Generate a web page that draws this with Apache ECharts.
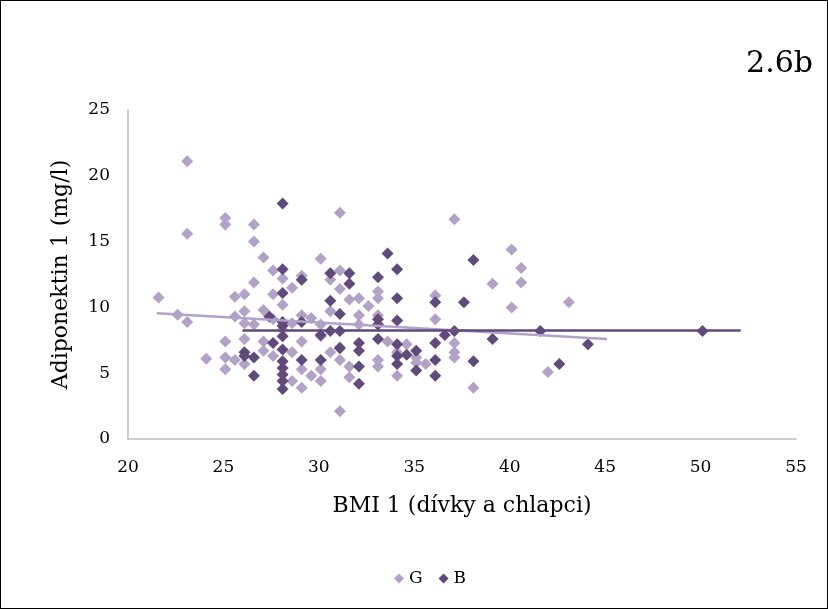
<!DOCTYPE html>
<html><head><meta charset="utf-8">
<script src="https://cdn.jsdelivr.net/npm/echarts@6/dist/echarts.min.js"></script>
<style>html,body{margin:0;padding:0;background:#fff}#c{width:828px;height:609px;box-sizing:border-box;border:1px solid #000}</style>
</head><body><div id="c"></div>
<script>
const xTicks = [20,25,30,35,40,45,50,55];
const yTicks = [0,5,10,15,20,25];
const girls = [
[21.6,10.75],[22.6,9.45],[23.1,21.1],[23.1,15.6],[23.1,8.9],[24.1,6.1],
[25.1,16.8],[25.1,16.3],[25.1,7.4],[25.1,6.2],[25.1,5.3],
[25.6,10.8],[25.6,9.3],[25.6,6.0],
[26.1,11.0],[26.1,9.7],[26.1,8.8],[26.1,7.6],[26.1,5.7],
[26.6,16.3],[26.6,15.0],[26.6,11.9],[26.6,8.7],
[27.1,13.8],[27.1,9.8],[27.1,7.4],[27.1,6.7],
[27.6,12.8],[27.6,11.0],[27.6,9.1],[27.6,6.3],
[28.1,12.2],[28.1,10.2],[28.1,8.3],
[28.6,11.5],[28.6,8.8],[28.6,6.6],[28.6,4.4],
[29.1,12.4],[29.1,9.4],[29.1,7.4],[29.1,5.3],[29.1,3.9],
[29.6,9.2],[29.6,4.8],
[30.1,13.7],[30.1,8.7],[30.1,7.8],[30.1,5.3],[30.1,4.4],
[30.6,12.1],[30.6,9.7],[30.6,6.6],
[31.1,17.2],[31.1,12.8],[31.1,11.4],[31.1,7.0],[31.1,6.0],[31.1,2.1],
[31.6,10.6],[31.6,5.5],[31.6,4.7],
[32.1,10.7],[32.1,9.4],[32.1,8.7],
[32.6,10.1],
[33.1,11.2],[33.1,10.7],[33.1,9.4],[33.1,6.0],[33.1,5.5],
[33.6,7.4],
[34.1,6.6],[34.1,4.8],
[34.6,7.2],
[35.1,6.2],[35.1,5.8],[35.6,5.7],
[36.1,10.9],[36.1,9.1],
[37.1,16.7],[37.1,7.3],[37.1,6.6],[37.1,6.2],
[38.1,3.9],[39.1,11.8],[40.1,14.4],[40.1,10.0],[40.6,13.0],[40.6,11.9],[42.0,5.1],[43.1,10.4]
];
const boys = [
[26.1,6.6],[26.1,6.3],[26.6,6.2],[26.6,4.8],
[27.4,9.3],[27.6,7.3],
[28.1,17.9],[28.1,12.9],[28.1,11.1],[28.1,8.9],[28.1,8.6],[28.1,7.8],[28.1,6.8],[28.1,5.9],[28.1,5.4],[28.1,4.9],[28.1,4.4],[28.1,3.8],
[29.1,12.1],[29.1,8.9],[29.1,6.0],
[30.1,6.0],[30.1,7.9],
[30.6,12.6],[30.6,10.5],[30.6,8.2],
[31.1,9.5],[31.1,8.2],[31.1,6.9],
[31.6,12.6],[31.6,11.8],
[32.1,7.3],[32.1,6.7],[32.1,5.5],[32.1,4.2],
[33.1,12.3],[33.1,9.1],[33.1,8.7],[33.1,7.6],
[33.6,14.1],
[34.1,12.9],[34.1,10.7],[34.1,9.0],[34.1,7.2],[34.1,6.3],[34.1,5.7],
[34.6,6.4],[35.1,6.7],[35.1,5.2],
[36.1,10.4],[36.1,7.3],[36.1,6.0],[36.1,4.8],
[36.6,7.9],[37.1,8.2],[37.6,10.4],[38.1,13.6],[38.1,5.9],[39.1,7.6],[41.6,8.2],[42.6,5.7],[44.1,7.2],[50.1,8.2]
];
const girlsTrend = [[21.5,9.55],[45.1,7.6]];
const boysTrend = [[26.0,8.25],[52.1,8.25]];

const font = 'DejaVu Serif';
const chart = echarts.init(document.getElementById('c'));
chart.setOption({
  animation:false,
  title:{text:'2.6b', right:9, top:43, textStyle:{fontFamily:font, fontSize:30, fontWeight:'normal', color:'#000'}},
  legend:{bottom:16, left:388, itemWidth:10, itemHeight:10, itemGap:16,
    textStyle:{fontFamily:font, fontSize:17, color:'#000'},
    data:[{name:'G', icon:'diamond'},{name:'B', icon:'diamond'}]},
  grid:{left:127, right:31, top:109, bottom:169},
  xAxis:{type:'value', min:20, max:55, interval:5, name:'BMI 1 (dívky a chlapci)', nameLocation:'middle', nameGap:56,
    nameTextStyle:{fontFamily:font, fontSize:22, color:'#000'},
    axisLine:{lineStyle:{color:'#bfbfbf', width:1.5}}, axisTick:{show:false}, splitLine:{show:false},
    axisLabel:{fontFamily:font, fontSize:17, color:'#000', margin:20, formatter:v=>xTicks.includes(v)?String(v):''}},
  yAxis:{type:'value', min:0, max:25, interval:5, name:'Adiponektin 1 (mg/l)', nameLocation:'middle', nameGap:56,
    nameTextStyle:{fontFamily:font, fontSize:22, color:'#000'},
    axisLine:{show:true, lineStyle:{color:'#bfbfbf', width:1.5}}, axisTick:{show:false}, splitLine:{show:false},
    axisLabel:{fontFamily:font, fontSize:17, color:'#000', margin:18, formatter:v=>yTicks.includes(v)?String(v):''}},
  series:[
    {name:'G', type:'scatter', symbol:'diamond', symbolSize:12, itemStyle:{color:'#b3a2c7', opacity:1}, data:girls, z:2},
    {name:'B', type:'scatter', symbol:'diamond', symbolSize:12, itemStyle:{color:'#604a7b', opacity:1}, data:boys, z:3},
    {name:'Gtrend', type:'line', data:girlsTrend, symbol:'none', lineStyle:{color:'#b3a2c7', width:2.5}, z:4, silent:true},
    {name:'Btrend', type:'line', data:boysTrend, symbol:'none', lineStyle:{color:'#604a7b', width:2.5}, z:5, silent:true}
  ]
});
</script></body></html>
